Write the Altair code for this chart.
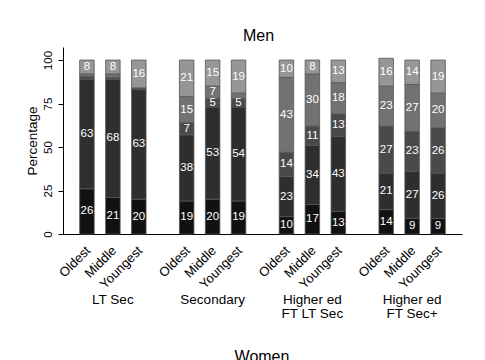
import altair as alt
import pandas as pd

groups = ["LT Sec", "Secondary", "Higher ed FT LT Sec", "Higher ed FT Sec+"]
group_labels = ["LT Sec", "Secondary", "Higher ed\nFT LT Sec", "Higher ed\nFT Sec+"]
ages = ["Oldest", "Middle", "Youngest"]
cats = ["Level 1", "Level 2", "Level 3", "Level 4", "Level 5"]
colors = ["#111111", "#2e2e2e", "#4a4a4a", "#727272", "#969696"]

# values per category, ordered group by group (Oldest, Middle, Youngest)
level1 = [26, 21, 20, 19, 20, 19, 10, 17, 13, 14, 9, 9]
level2 = [63, 68, 63, 38, 53, 54, 23, 34, 43, 21, 27, 26]
level3 = [1.5, 1, 1, 7, 5, 5, 14, 11, 13, 27, 23, 26]
level4 = [1.5, 2, 0, 15, 7, 3, 43, 30, 18, 23, 27, 20]
level5 = [8, 8, 16, 21, 15, 19, 10, 8, 13, 16, 14, 19]
series = [level1, level2, level3, level4, level5]

rows = []
for ci, (cat, vals) in enumerate(zip(cats, series)):
    k = 0
    for g in groups:
        for a in ages:
            rows.append({"group": g, "age": a, "cat": cat, "ci": ci, "value": vals[k]})
            k += 1
df = pd.DataFrame(rows)
df_ages = pd.DataFrame([{"group": g, "age": a} for g in groups for a in ages])
df_groups = pd.DataFrame({"group": groups, "label": group_labels})
df_women = pd.DataFrame({"t": ["Women"]})

FONT = "Liberation Sans"

x_enc = alt.X("group:N", sort=groups,
              scale=alt.Scale(domain=groups, paddingInner=0.22, paddingOuter=0.11),
              axis=alt.Axis(labels=False, ticks=False, title=None, domainColor="black"))
xo_enc = alt.XOffset("age:N", sort=ages,
                     scale=alt.Scale(domain=ages, paddingInner=0.44, paddingOuter=0.22))

base = alt.Chart(df).transform_stack(
    stack="value", groupby=["group", "age"],
    sort=[alt.SortField("ci", order="ascending")], as_=["v0", "v1"]
)

bars = base.mark_bar(stroke="#555555", strokeWidth=0.8).encode(
    x=x_enc,
    xOffset=xo_enc,
    y=alt.Y("v0:Q", scale=alt.Scale(domain=[0, 107.5], nice=False),
            axis=alt.Axis(values=[0, 25, 50, 75, 100], title="Percentage",
                          labelAngle=270, labelAlign="center", labelBaseline="bottom",
                          tickSize=5, labelPadding=5, grid=False,
                          domainColor="black", tickColor="black", labelColor="black",
                          labelFontSize=11.5, labelFont=FONT,
                          titleFont=FONT, titleFontSize=13.5, titleFontWeight="normal",
                          titleColor="black", titlePadding=3)),
    y2="v1:Q",
    color=alt.Color("cat:N", scale=alt.Scale(domain=cats, range=colors), legend=None),
    order=alt.Order("ci:Q"),
)

labels = base.transform_filter("datum.value >= 5").transform_calculate(
    mid="(datum.v0 + datum.v1) / 2"
).mark_text(color="white", fontSize=11.5, font=FONT).encode(
    x=x_enc, xOffset=xo_enc, y=alt.Y("mid:Q"), text=alt.Text("value:Q", format=".0f")
)

age_text = alt.Chart(df_ages).mark_text(
    angle=315, align="right", baseline="middle", fontSize=13, font=FONT, color="black", dx=2
).encode(x=x_enc, xOffset=xo_enc, y=alt.value(203), text="age:N")

group_text = alt.Chart(df_groups).mark_text(
    baseline="top", lineBreak="\n", fontSize=13.5, lineHeight=14, font=FONT, color="black"
).encode(x=x_enc, y=alt.value(246), text="label:N")

women = alt.Chart(df_women).mark_text(
    baseline="top", fontSize=16, font=FONT, color="black"
).encode(x=alt.value(199), y=alt.value(302), text="t:N")

chart = alt.layer(bars, labels, age_text, group_text, women).properties(
    width=399, height=187,
    title=alt.TitleParams("Men", fontSize=16, font=FONT, fontWeight="normal",
                          anchor="middle", color="black", offset=3, dx=-4),
    autosize=alt.AutoSizeParams(type="none"),
    padding={"left": 55, "top": 39, "right": 15, "bottom": 130},
).configure_view(stroke=None)

chart.save("out.html", embed_options={"renderer": "svg", "actions": False})
